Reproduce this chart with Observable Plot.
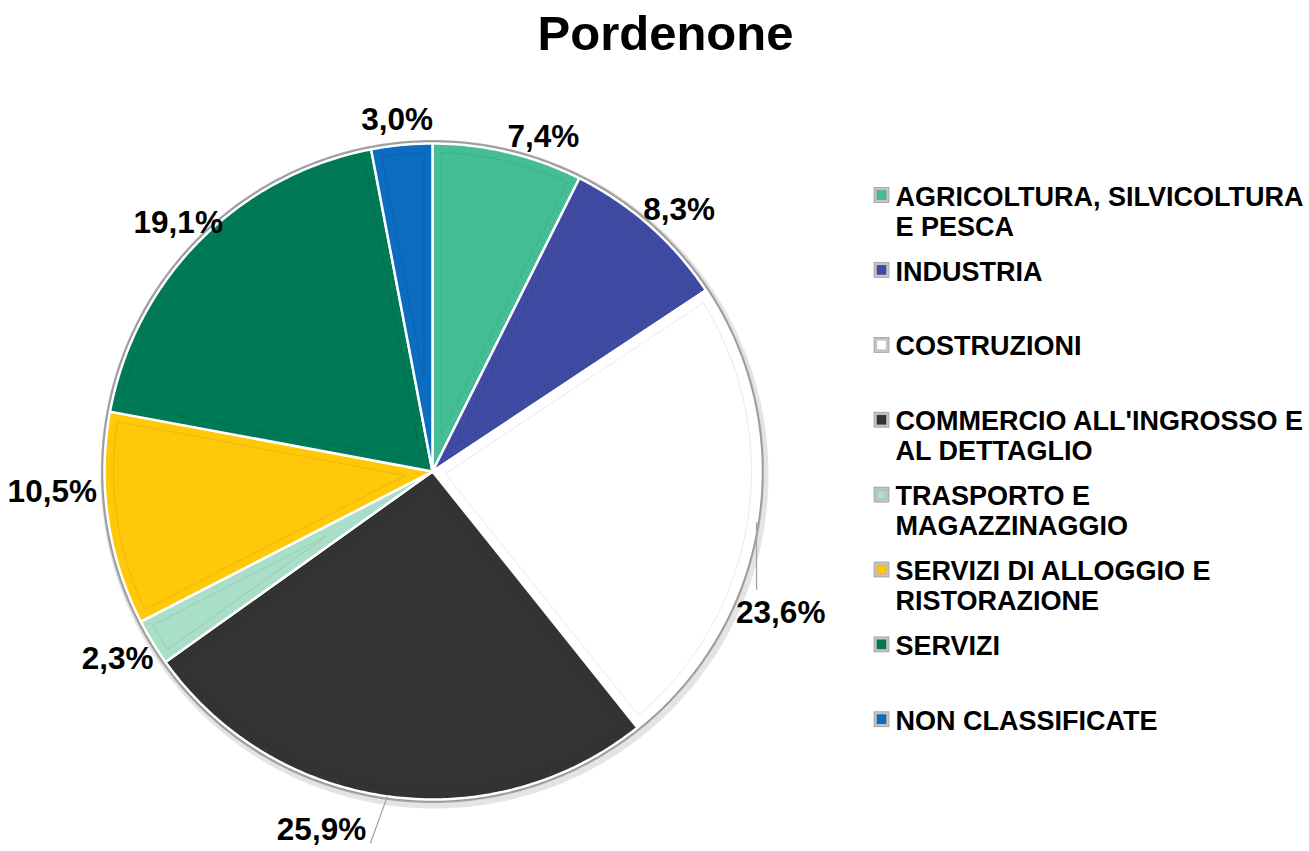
<!DOCTYPE html>
<html>
<head>
<meta charset="utf-8">
<script src="https://cdn.jsdelivr.net/npm/d3@7"></script>
<script src="https://cdn.jsdelivr.net/npm/@observablehq/plot@0.6"></script>
<style>
  html, body { margin: 0; padding: 0; background: #fff; }
  body { width: 1309px; height: 851px; overflow: hidden; font-family: "Liberation Sans", Arial, sans-serif; }
  #title { height: 70px; line-height: 66px; font-size: 49px; font-weight: bold; text-align: center; padding-left: 22px; box-sizing: border-box; color: #000; }
  #chart svg { display: block; }
</style>
</head>
<body>
<div id="title">Pordenone</div>
<div id="chart"></div>
<script>
// ---- data ----
const categories = [
  "AGRICOLTURA, SILVICOLTURA E PESCA",
  "INDUSTRIA",
  "COSTRUZIONI",
  "COMMERCIO ALL'INGROSSO E AL DETTAGLIO",
  "TRASPORTO E MAGAZZINAGGIO",
  "SERVIZI DI ALLOGGIO E RISTORAZIONE",
  "SERVIZI",
  "NON CLASSIFICATE"
];
const legendLabels = [
  "AGRICOLTURA, SILVICOLTURA\nE PESCA",
  "INDUSTRIA",
  "COSTRUZIONI",
  "COMMERCIO ALL'INGROSSO E\nAL DETTAGLIO",
  "TRASPORTO E\nMAGAZZINAGGIO",
  "SERVIZI DI ALLOGGIO E\nRISTORAZIONE",
  "SERVIZI",
  "NON CLASSIFICATE"
];
const values = [7.4, 8.3, 23.6, 25.9, 2.3, 10.5, 19.1, 3.0];
const colors = ["#45BE95", "#3F4AA2", "#FFFFFF", "#333333", "#A9DEC8", "#FFC90A", "#007A56", "#0B6CC0"];

// ---- layout ----
const W = 1309, H = 851, TOP = 70;
const CX = 432, CY = 471, R = 328;
const LABEL_FS = 31.5;
// label nudges (degrees along the circle, extra radius px) and leader lines
const labelShift = {0: [4, -3], 1: [0, -4], 2: [15, -4, true], 3: [8, 20, true], 4: [-1, -3], 5: [5, -4], 6: [2, -13]};

const total = d3.sum(values);
let acc = 0;
const slices = values.map((v, i) => {
  const a0 = acc / total * 2 * Math.PI;
  acc += v;
  const a1 = acc / total * 2 * Math.PI;
  return {i, cat: categories[i], value: v, a0, a1, mid: (a0 + a1) / 2};
});
const px = (a, r) => CX + r * Math.sin(a);
const py = (a, r) => CY - r * Math.cos(a);

// slice polygons
const slicePts = [];
for (const s of slices) {
  slicePts.push({cat: s.cat, x: CX, y: CY});
  const n = Math.max(2, Math.ceil((s.a1 - s.a0) / 0.01));
  for (let k = 0; k <= n; k++) {
    const a = s.a0 + (s.a1 - s.a0) * k / n;
    slicePts.push({cat: s.cat, x: px(a, R), y: py(a, R)});
  }
}
// inner bevel outlines
const bevelPts = [];
const inset = 9;
for (const s of slices) {
  const half = (s.a1 - s.a0) / 2;
  if (half >= Math.PI / 2) continue;
  const d = inset / Math.sin(half);
  bevelPts.push({cat: s.cat, x: px(s.mid, d), y: py(s.mid, d)});
  const rr = R - inset;
  const da = Math.asin(inset / rr);
  const b0 = s.a0 + da, b1 = s.a1 - da;
  const n = Math.max(2, Math.ceil((b1 - b0) / 0.01));
  for (let k = 0; k <= n; k++) {
    const a = b0 + (b1 - b0) * k / n;
    bevelPts.push({cat: s.cat, x: px(a, rr), y: py(a, rr)});
  }
}
// outer shadow ring
const ringPts = d3.range(0, 361, 1).map(t => ({x: px(t * Math.PI / 180, R + 2), y: py(t * Math.PI / 180, R + 2)}));
const ringPts2 = d3.range(0, 361, 1).map(t => ({x: px(t * Math.PI / 180, R + 3) + 2, y: py(t * Math.PI / 180, R + 3) + 3}));

// value labels
const labels = [];
const leaders = [];
for (const s of slices) {
  const text = s.value.toFixed(1).replace(".", ",") + "%";
  const sh = labelShift[s.i] || [0, 0];
  const a = s.mid + sh[0] * Math.PI / 180;
  const w = text.length * 0.57 * LABEL_FS, h = 26;
  const rad = R + 12 + sh[1];
  const x = px(a, rad) + Math.sin(a) * w / 2;
  const y = py(a, rad) - Math.cos(a) * h / 2;
  labels.push({x, y, text});
  if (sh[2]) {
    const ex = px(s.mid, R), ey = py(s.mid, R);
    const bx0 = x - w / 2, bx1 = x + w / 2, by0 = y - h / 2, by1 = y + h / 2;
    let tx = Math.max(bx0, Math.min(bx1, ex));
    let ty = Math.max(by0, Math.min(by1, ey));
    if (s.i === 3) { tx = bx1 + 4; ty = by1; }
    else { ty = by0 - 10; }
    leaders.push({x1: ex, y1: ey, x2: tx, y2: ty});
  }
}

// legend
const LEG_X = 874, LEG_TX = 895, LEG_Y0 = 203, LEG_STEP = 74.9, LEG_FS = 27;
const legend = categories.map((c, i) => ({
  cat: c,
  label: legendLabels[i],
  base: LEG_Y0 + i * LEG_STEP
}));

const plot = Plot.plot({
  width: W,
  height: H - TOP,
  margin: 0,
  x: {domain: [0, W], range: [0, W], axis: null},
  y: {domain: [TOP, H], range: [0, H - TOP], axis: null},
  color: {domain: categories, range: colors},
  style: {fontFamily: "'Liberation Sans', Arial, sans-serif", background: "#fff", color: "#000"},
  marks: [
    Plot.line(ringPts2, {x: "x", y: "y", stroke: "#d8d8d8", strokeWidth: 6, strokeOpacity: 0.7}),
    Plot.line(ringPts, {x: "x", y: "y", stroke: "#a8a8a8", strokeWidth: 3}),
    Plot.line(slicePts, {x: "x", y: "y", z: "cat", fill: "cat", stroke: "#9a9a9a", strokeWidth: 5, curve: "linear-closed", strokeLinejoin: "round"}),
    Plot.line(slicePts, {x: "x", y: "y", z: "cat", fill: "cat", stroke: "#fff", strokeWidth: 2.5, curve: "linear-closed", strokeLinejoin: "round"}),
    Plot.line(bevelPts, {x: "x", y: "y", z: "cat", stroke: d => d3.color(colors[categories.indexOf(d.cat)]).darker(0.45).formatHex(), strokeWidth: 1, strokeOpacity: 0.55, curve: "linear-closed"}),
    Plot.link(leaders, {x1: "x1", y1: "y1", x2: "x2", y2: "y2", stroke: "#a0a0a0", strokeWidth: 1.2}),
    Plot.text(labels, {x: "x", y: "y", text: "text", fontSize: LABEL_FS, fontWeight: "bold", fill: "#000", textAnchor: "middle", lineAnchor: "middle"}),
    // legend markers
    Plot.rect(legend, {x1: LEG_X, x2: LEG_X + 15, y1: d => d.base - 15.5, y2: d => d.base - 0.5, fill: "#c4c4c4", stroke: "#8a8a8a", strokeWidth: 0.6}),
    Plot.rect(legend, {x1: LEG_X + 3, x2: LEG_X + 12, y1: d => d.base - 12.5, y2: d => d.base - 3.5, fill: "cat", stroke: d => d3.color(colors[categories.indexOf(d.cat)]).darker(0.6).formatHex(), strokeWidth: 0.5}),
    Plot.text(legend, {x: LEG_TX, y: d => d.base - 0.71 * LEG_FS, text: "label", fontSize: LEG_FS, fontWeight: "bold", fill: "#000", textAnchor: "start", lineAnchor: "top", lineHeight: 30 / LEG_FS})
  ]
});
document.getElementById("chart").appendChild(plot);
</script>
</body>
</html>
